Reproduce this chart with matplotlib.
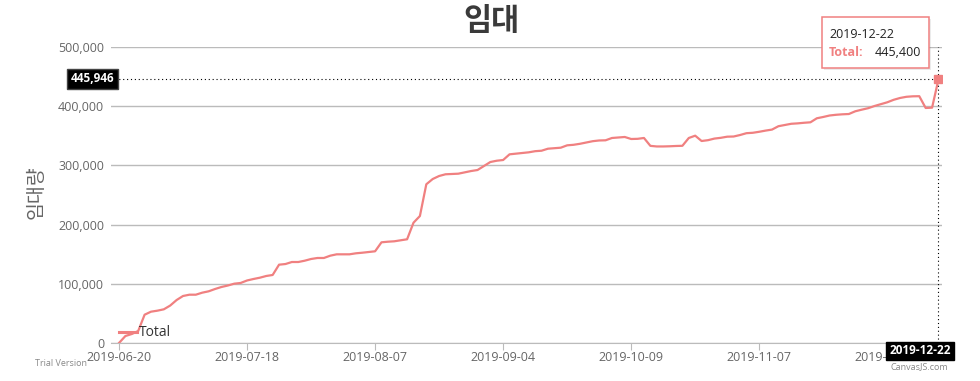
import matplotlib
matplotlib.use("Agg")
import matplotlib.pyplot as plt
import matplotlib.transforms as mtransforms
from matplotlib.patches import Rectangle
from matplotlib.ticker import FuncFormatter, MultipleLocator

plt.rcParams['font.family'] = ['Open Sans', 'Noto Sans CJK KR', 'DejaVu Sans']

#cumulative rentals, one value per category point
total = [0, 11800, 15200, 20300, 47800, 52900, 54600, 56900, 63300, 72600,
         79400, 81600, 81600, 85000, 87300, 91200, 94600, 97100, 100200, 101400,
         105600, 108100, 110300, 113200, 114900, 132300, 133400, 136800, 136800, 139000,
         141900, 143600, 143600, 147500, 149800, 149800, 149800, 151500, 152500, 153700,
         154900, 170100, 171100, 171800, 173500, 175200, 203200, 214500, 268100, 277000,
         282100, 285000, 285500, 286000, 288300, 290500, 292200, 299000, 305700, 307900,
         309100, 318700, 319800, 320900, 322100, 324000, 324800, 328200, 329000, 329900,
         333900, 334800, 336500, 338700, 340900, 342100, 342400, 346300, 347100, 348000,
         344600, 344900, 346300, 333000, 332000, 332000, 332300, 332800, 333100, 346300,
         350200, 341200, 342600, 345300, 346600, 348500, 348800, 351300, 354400, 355100,
         356800, 358800, 360500, 366200, 368300, 370300, 371000, 372000, 372800, 379600,
         381800, 384300, 385500, 386300, 386800, 391400, 394100, 396600, 400300, 403400,
         406600, 410800, 413900, 415900, 416700, 416900, 397000, 397500, 445400]

tick_idx = [0, 20, 40, 60, 80, 100, 120]
tick_labels = ["2019-06-20", "2019-07-18", "2019-08-07", "2019-09-04",
               "2019-10-09", "2019-11-07", "2019-12-12"]
last_date = "2019-12-22"
hover_value = 445946

LINE = "#F08080"
GRID = "#BBBBBB"
TXT = "#666666"

fig = plt.figure(figsize=(9.8, 3.81), dpi=100)
ax = fig.add_axes([111/980, 38/381, 831/980, 296/381])

x = list(range(len(total)))
ax.plot(x, total, color=LINE, lw=1.6, label="Total", solid_joinstyle='round', zorder=3)
ax.set_xlim(-1.25, 128.55)
ax.set_ylim(0, 500000)

ax.yaxis.set_major_locator(MultipleLocator(100000))
ax.yaxis.set_major_formatter(FuncFormatter(lambda v, p: f"{int(v):,}"))
ax.grid(axis='y', color=GRID, lw=1)
ax.set_axisbelow(True)
for s in ['left', 'right', 'top']:
    ax.spines[s].set_visible(False)
ax.spines['bottom'].set_color(GRID)

ax.set_xticks(tick_idx)
ax.set_xticklabels(tick_labels)
ax.tick_params(axis='x', color=GRID, labelcolor=TXT, length=5, labelsize=9, pad=1)
ax.tick_params(axis='y', labelcolor=TXT, length=0, labelsize=9, pad=5)

ax.set_ylabel("임대량", fontsize=14, color=TXT, family=['Noto Sans CJK KR', 'DejaVu Sans'])
ax.yaxis.set_label_coords(-0.077, 0.51)

fig.text(491/980, 1 - 21/381, "임대", ha='center', va='center', fontsize=22,
         color='#3A3A3A', family=['Noto Sans CJK KR', 'DejaVu Sans'], fontweight='bold')

leg = ax.legend(loc='center left', bbox_to_anchor=(119/980, 1 - 333/381),
                bbox_transform=fig.transFigure, frameon=False, handlelength=1.3,
                handletextpad=0.15, borderpad=0, borderaxespad=0, fontsize=10)
for t in leg.get_texts():
    t.set_color('#333333')
for h in leg.get_lines():
    h.set_linewidth(2.2)

#crosshair at hovered point
last = len(total) - 1
ax.axhline(hover_value, color='black', lw=0.8, ls=(0, (1, 2.5)), zorder=4)
ax.axvline(last, color='black', lw=0.8, ls=(0, (1, 2.5)), zorder=4)
ax.plot(last, total[last], marker='s', ms=6, color=LINE, zorder=5)

blend = mtransforms.blended_transform_factory(ax.transAxes, ax.transData)
ax.text(0.004, hover_value, f"{hover_value:,}", transform=blend, ha='right', va='center',
        color='white', fontsize=8.5, fontweight='bold', zorder=10,
        bbox=dict(boxstyle='square,pad=0.3', fc='black', ec='#444444'))
ax.text(1.0105, -0.005, last_date, transform=ax.transAxes, ha='right', va='top',
        color='white', fontsize=8.5, fontweight='bold', zorder=10,
        bbox=dict(boxstyle='square,pad=0.25', fc='black', ec='black'))

#tooltip
ax.add_patch(Rectangle((824/980, 1 - 70/381), 107/980, 51/381, transform=fig.transFigure,
                       fc='#000000', alpha=0.08, ec='none', clip_on=False, zorder=11))
ax.add_patch(Rectangle((822/980, 1 - 68/381), 107/980, 51/381, transform=fig.transFigure,
                       fc='white', ec=LINE, lw=1.1, clip_on=False, zorder=12))
ax.text(829/980, 1 - 34/381, last_date, transform=fig.transFigure, ha='left', va='center',
        fontsize=9, color='#222222', zorder=13)
ax.text(829/980, 1 - 53/381, "Total:", transform=fig.transFigure, ha='left', va='center',
        fontsize=9, color=LINE, fontweight='bold', zorder=13)
ax.text(875/980, 1 - 53/381, f"{total[last]:,}", transform=fig.transFigure, ha='left',
        va='center', fontsize=9, color='#222222', zorder=13)

#watermarks
fig.text(35/980, 1 - 364/381, "Trial Version", ha='left', va='center', fontsize=6.5, color='#888888')
ax.text(948/980, 1 - 367/381, "CanvasJS.com", transform=fig.transFigure, ha='right',
        va='center', fontsize=6.5, color='#888888', zorder=1)

fig.savefig("out.png", dpi=100)
